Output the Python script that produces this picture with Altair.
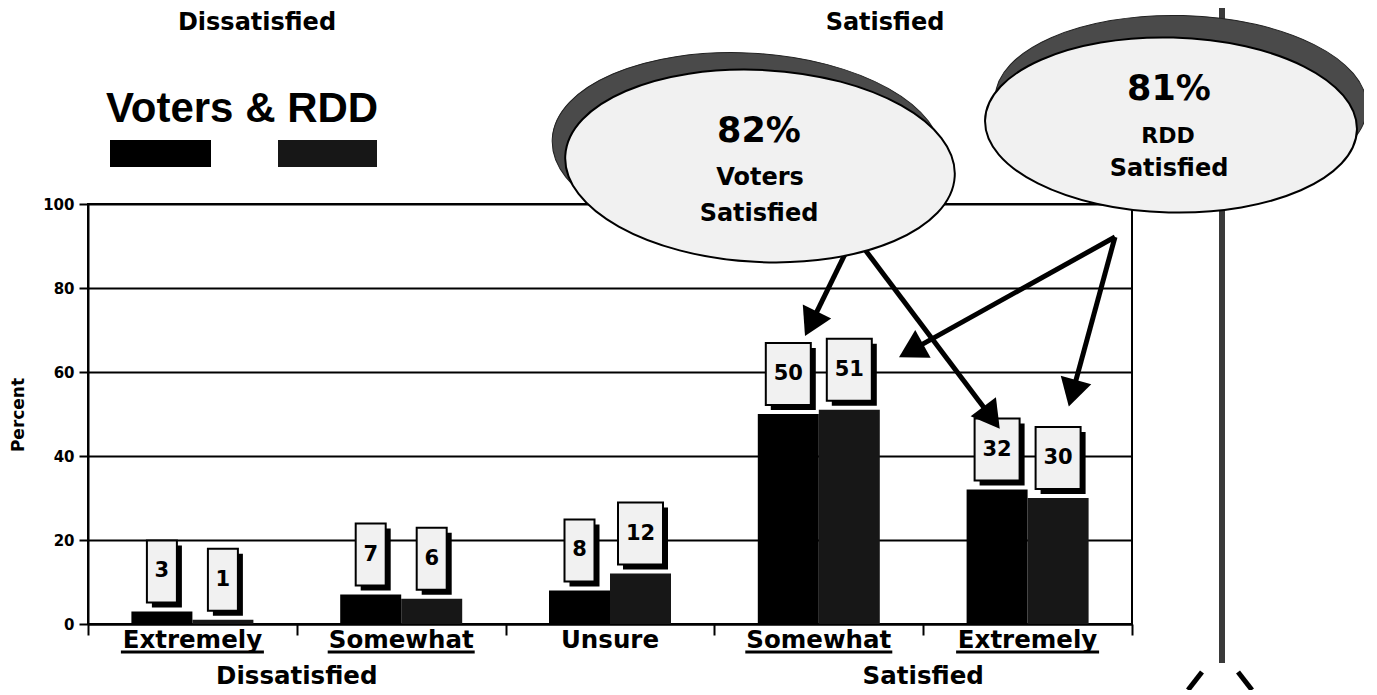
import math
import altair as alt
import pandas as pd

# ---------------- data ----------------
categories = ["Extremely Dissatisfied", "Somewhat Dissatisfied", "Unsure",
              "Somewhat Satisfied", "Extremely Satisfied"]
cat_labels = ["Extremely", "Somewhat", "Unsure", "Somewhat", "Extremely"]
series_names = ["Voters", "RDD"]
voters_pct = [3, 7, 8, 50, 32]
rdd_pct = [1, 6, 12, 51, 30]
y_tick_values = [0, 20, 40, 60, 80, 100]
side_labels = ["Dissatisfied", "Satisfied"]
side_anchor = ["Extremely Dissatisfied", "Somewhat Satisfied"]
legend_title = ["Voters & RDD"]
callout_pct = ["82%", "81%"]
callout_who = ["Voters", "RDD"]
callout_word = ["Satisfied", "Satisfied"]
y_title = ["Percent"]

# ---------------- layout (page pixels -> plot pixels) ----------------
W, H = 1044, 420
OX, OY = 88, 204
PAD = {"left": 80, "top": 196, "right": 232, "bottom": 66}
FONT = "DejaVu Sans"
BAR_COLORS = ["#000000", "#171717"]
STEP = W / len(categories)
BAR_W = 61
SUB = BAR_W / 2
OFF_PAD = (STEP / BAR_W - 2) / 2


def px(x):
    return x - OX


def py(y):
    return y - OY


rows = []
for i, c in enumerate(categories):
    for s, vals in zip(series_names, [voters_pct, rdd_pct]):
        rows.append({"cat": c, "series": s, "value": vals[i], "txt": str(vals[i])})
df = pd.DataFrame(rows)
df_cat = pd.DataFrame({"cat": categories, "label": cat_labels})
df_side = pd.DataFrame({"cat": side_anchor, "label": side_labels})
one = pd.DataFrame({"k": [0]})

x_scale = alt.Scale(domain=categories, paddingInner=0, paddingOuter=0)
y_scale = alt.Scale(domain=[0, 100], nice=False)
x_axis = alt.Axis(title=None, labels=False, tickBand="extent", ticks=True,
                  tickSize=11, tickWidth=2, tickColor="black",
                  domainColor="black", domainWidth=2, grid=False)
y_axis = alt.Axis(title=None, values=y_tick_values, grid=True, gridColor="black",
                  gridWidth=2, gridOpacity=1, domainColor="black", domainWidth=2,
                  tickColor="black", tickWidth=2, tickSize=9, labelFont=FONT,
                  labelFontSize=15, labelFontWeight="bold", labelPadding=5,
                  labelColor="black")
X_ = alt.X("cat:N", scale=x_scale, axis=x_axis)
Y_ = alt.Y("value:Q", scale=y_scale, axis=y_axis)

layers = []

# decorative vertical line at right
layers.append(alt.Chart(one).mark_rule(color="#3a3a3a", strokeWidth=6).encode(
    x=alt.value(px(1222)), y=alt.value(py(8)), y2=alt.value(py(663))))
for (x0, y0), (x1, y1) in [((1202, 672), (1188, 690)), ((1238, 672), (1252, 690))]:
    layers.append(alt.Chart(one).mark_rule(color="black", strokeWidth=5).encode(
        x=alt.value(px(x0)), y=alt.value(py(y0)), x2=alt.value(px(x1)), y2=alt.value(py(y1))))

# bars
bars = alt.Chart(df).mark_bar().encode(
    x=X_,
    xOffset=alt.XOffset("series:N", scale=alt.Scale(domain=series_names,
                                                     paddingInner=0, paddingOuter=OFF_PAD)),
    y=Y_,
    color=alt.Color("series:N", scale=alt.Scale(domain=series_names, range=BAR_COLORS),
                    legend=None),
)
layers.append(bars)

# value boxes above bars
for k, s in enumerate(series_names):
    off = -SUB if k == 0 else SUB
    for cond, bw in [(alt.datum.value < 10, 30), (alt.datum.value >= 10, 45)]:
        base = alt.Chart(df).transform_filter(alt.datum.series == s).transform_filter(cond)
        layers.append(base.mark_bar(width=bw, color="black", xOffset=off + 5,
                                    yOffset=-66, y2Offset=-4).encode(
            x=X_, y=Y_, y2=alt.Y2("value")))
        layers.append(base.mark_bar(width=bw, fill="#f1f1f1", stroke="black", strokeWidth=2,
                                    xOffset=off, yOffset=-71, y2Offset=-9).encode(
            x=X_, y=Y_, y2=alt.Y2("value")))
    layers.append(alt.Chart(df).transform_filter(alt.datum.series == s).mark_text(
        font=FONT, fontWeight="bold", fontSize=21, dx=off, dy=-40, baseline="middle",
        align="center", color="black").encode(x=X_, y=Y_, text="txt:N"))

# arrows
arrows = [((847, 250), (807, 332)), ((863, 247), (997, 425)),
          ((1115, 237), (903, 355)), ((1115, 237), (1070, 402))]
HEAD = 1000
h_half = math.sqrt(3) / 2 * math.sqrt(HEAD) / 2
for (x0, y0), (x1, y1) in arrows:
    dx, dy = x1 - x0, y1 - y0
    L = math.hypot(dx, dy)
    ux, uy = dx / L, dy / L
    cx, cy = x1 - ux * h_half, y1 - uy * h_half
    ang = (math.degrees(math.atan2(ux, -uy)) + 360) % 360
    layers.append(alt.Chart(one).mark_rule(color="black", strokeWidth=5).encode(
        x=alt.value(px(x0)), y=alt.value(py(y0)), x2=alt.value(px(cx)), y2=alt.value(py(cy))))
    layers.append(alt.Chart(one).mark_point(shape="triangle", size=HEAD, angle=ang, filled=True,
                                            color="black", opacity=1).encode(
        x=alt.value(px(cx)), y=alt.value(py(cy))))


# callout ellipses
def ellipse_path(ry):
    kk = 0.5523
    return (f"M -1 0 C -1 {-kk*ry:.4f} {-kk:.4f} {-ry:.4f} 0 {-ry:.4f} "
            f"C {kk:.4f} {-ry:.4f} 1 {-kk*ry:.4f} 1 0 "
            f"C 1 {kk*ry:.4f} {kk:.4f} {ry:.4f} 0 {ry:.4f} "
            f"C {-kk:.4f} {ry:.4f} -1 {kk*ry:.4f} -1 0 Z")


ellipses = [  # center, width, height, tilt, shadow offset
    ((760, 166), 390, 192, 3, (-13, -17)),
    ((1171, 125), 372, 175, 1.5, (10, -22)),
]
for i, ((cx, cy), ew, eh, tilt, (sx, sy)) in enumerate(ellipses):
    shape = ellipse_path(eh / ew)
    layers.append(alt.Chart(one).mark_point(shape=shape, size=ew * ew, angle=tilt, filled=True,
                                            fill="#4a4a4a", stroke="#222222", strokeWidth=1,
                                            opacity=1).encode(
        x=alt.value(px(cx + sx)), y=alt.value(py(cy + sy))))
    layers.append(alt.Chart(one).mark_point(shape=shape, size=ew * ew, angle=tilt, filled=True,
                                            fill="#f1f1f1", stroke="black", strokeWidth=2,
                                            opacity=1).encode(
        x=alt.value(px(cx)), y=alt.value(py(cy))))

callout_text = [
    (callout_pct[0], 759, 142, 35), (callout_who[0], 760, 185, 24), (callout_word[0], 759, 221, 24),
    (callout_pct[1], 1169, 100, 35), (callout_who[1], 1168, 143, 22), (callout_word[1], 1169, 176, 24),
]
for t, tx, ty, fs in callout_text:
    layers.append(alt.Chart(pd.DataFrame({"t": [t]})).mark_text(
        font=FONT, fontWeight="bold", fontSize=fs, align="center", baseline="alphabetic",
        color="black").encode(x=alt.value(px(tx)), y=alt.value(py(ty)), text="t:N"))

# category labels + underlines
layers.append(alt.Chart(df_cat).mark_text(
    font=FONT, fontWeight="bold", fontSize=24.5, align="center", baseline="alphabetic",
    color="black").encode(x=X_, y=alt.value(py(648)), text="label:N"))
for lab, uw in [("Extremely", 143), ("Somewhat", 147)]:
    layers.append(alt.Chart(df_cat).transform_filter(alt.datum.label == lab).mark_rule(
        color="black", strokeWidth=3, xOffset=-uw / 2, x2Offset=uw / 2).encode(
        x=X_, x2=alt.X2("cat"), y=alt.value(py(652))))
layers.append(alt.Chart(df_side).mark_text(
    font=FONT, fontWeight="bold", fontSize=24.5, align="center", baseline="alphabetic",
    dx=STEP / 2, color="black").encode(x=X_, y=alt.value(py(684)), text="label:N"))

# top group labels
for t, tx in zip(side_labels, [257, 885]):
    layers.append(alt.Chart(pd.DataFrame({"t": [t]})).mark_text(
        font=FONT, fontWeight="bold", fontSize=24, align="center", baseline="alphabetic",
        color="black").encode(x=alt.value(px(tx)), y=alt.value(py(30)), text="t:N"))

# legend title and swatches
layers.append(alt.Chart(pd.DataFrame({"t": legend_title})).mark_text(
    font="Liberation Sans", fontWeight="bold", fontSize=42, align="center",
    baseline="alphabetic", color="black").encode(
    x=alt.value(px(242)), y=alt.value(py(122)), text="t:N"))
for s, (x0, x1) in zip(series_names, [(110, 211), (278, 377)]):
    layers.append(alt.Chart(pd.DataFrame({"series": [s]})).mark_rect().encode(
        x=alt.value(px(x0)), x2=alt.value(px(x1)), y=alt.value(py(140)), y2=alt.value(py(167)),
        color=alt.Color("series:N", scale=alt.Scale(domain=series_names, range=BAR_COLORS),
                        legend=None)))

# y title
layers.append(alt.Chart(pd.DataFrame({"t": y_title})).mark_text(
    font=FONT, fontWeight="bold", fontSize=17, angle=270, align="center", baseline="middle",
    color="black").encode(x=alt.value(px(19)), y=alt.value(py(415)), text="t:N"))

chart = alt.layer(*layers).properties(
    width=W, height=H, padding=PAD, autosize=alt.AutoSizeParams(type="none"),
    background="white",
).configure_view(stroke="black", strokeWidth=2)

chart.save("out.html", embed_options={"renderer": "svg", "actions": False})
